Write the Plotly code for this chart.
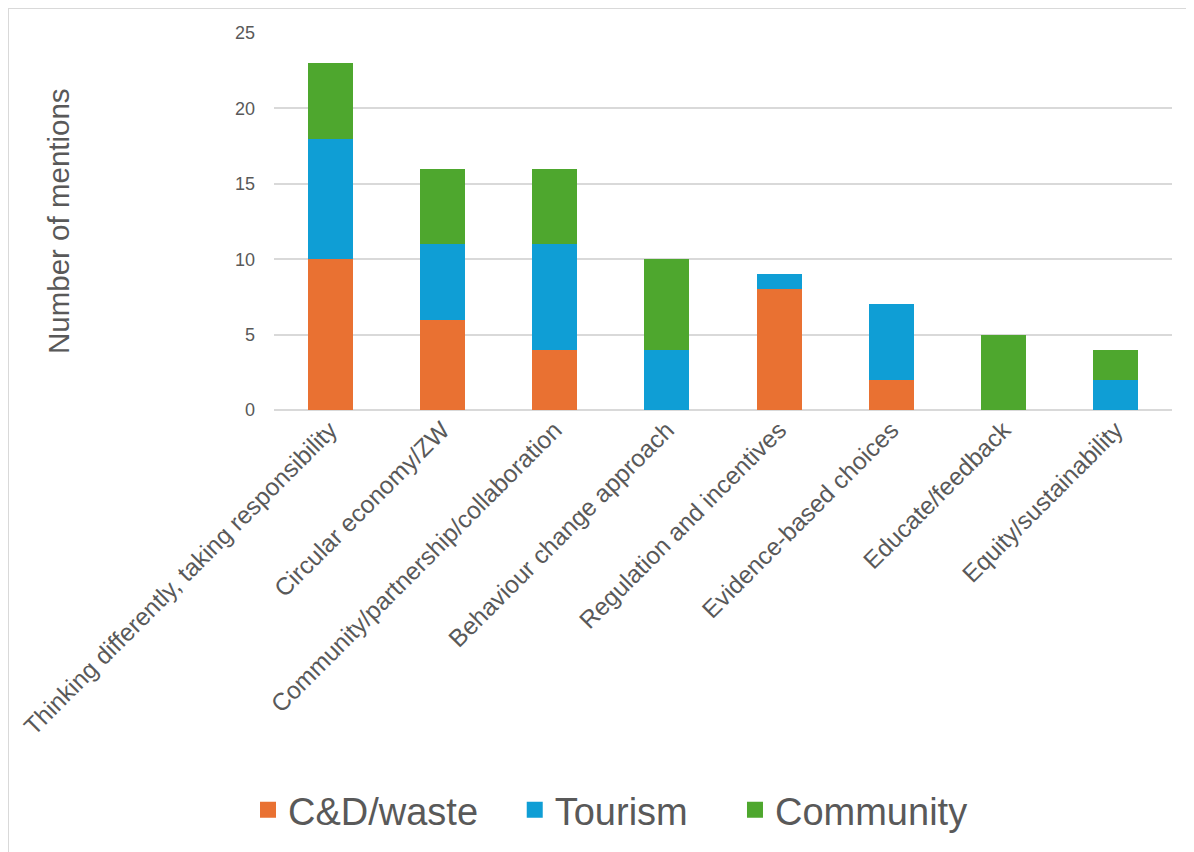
import plotly.graph_objects as go

categories = [
    "Thinking differently, taking responsibility",
    "Circular economy/ZW",
    "Community/partnership/collaboration",
    "Behaviour change approach",
    "Regulation and incentives",
    "Evidence-based choices",
    "Educate/feedback",
    "Equity/sustainability",
]
cd_waste = [10, 6, 4, 0, 8, 2, 0, 0]
tourism = [8, 5, 7, 4, 1, 5, 0, 2]
community = [5, 5, 5, 6, 0, 0, 5, 2]

series_names = ["C&D/waste", "Tourism", "Community"]
series_values = [cd_waste, tourism, community]
series_colors = ["#E97132", "#0F9ED5", "#4EA72E"]
legend_labels = ["C&D/waste\u00a0\u00a0\u00a0", "Tourism\u00a0\u00a0\u00a0\u00a0", "Community"]

# page body has an 8px margin, so the figure is drawn 8px smaller
OFF = 8
W, H = 1194 - OFF, 852 - OFF
L, R, T, B = 274 - OFF, 22, 33 - OFF, 442
PW, PH = W - L - R, H - T - B


def px_x(p):  # p in screen px
    return (p - OFF - L) / PW


def px_y(p):
    return (H - B - (p - OFF)) / PH


TEXT = "#595959"
GRID = "#d9d9d9"
FONT = "Liberation Sans"

fig = go.Figure()
for name, vals, col in zip(series_names, series_values, series_colors):
    fig.add_trace(go.Bar(
        x=categories, y=vals, name=name, marker_color=col,
        marker_line_width=0, showlegend=False, legendgroup=name,
    ))
for name, col, lab in zip(series_names, series_colors, legend_labels):
    fig.add_trace(go.Scatter(
        x=[None], y=[None], mode="markers", name=lab, legendgroup=name,
        marker=dict(symbol="square", size=16, color=col), showlegend=True,
    ))

fig.update_layout(
    width=W, height=H,
    margin=dict(l=L, r=R, t=T, b=B, autoexpand=False),
    barmode="stack", bargap=0.6,
    plot_bgcolor="white", paper_bgcolor="white",
    font=dict(family=FONT, color=TEXT),
    showlegend=True,
    legend=dict(
        orientation="h", x=px_x(248), xanchor="left", y=px_y(810), yanchor="middle",
        font=dict(size=38, color=TEXT, family=FONT), itemsizing="trace",
        bgcolor="rgba(0,0,0,0)",
    ),
    xaxis=dict(
        tickangle=-45, tickfont=dict(size=24.5, color=TEXT, family=FONT),
        showgrid=False, showline=False, ticks="", automargin=False,
    ),
    yaxis=dict(
        range=[0, 25], dtick=5, tickfont=dict(size=18, color=TEXT, family=FONT),
        showgrid=True, gridcolor=GRID, gridwidth=2,
        zeroline=True, zerolinecolor=GRID, zerolinewidth=2,
        showline=False, ticks="", ticklabelstandoff=18, automargin=False,
    ),
    annotations=[dict(
        text="Number of mentions", textangle=-90, xref="paper", yref="paper",
        x=px_x(58), y=px_y(221), xanchor="center", yanchor="middle", showarrow=False,
        font=dict(size=29.5, color=TEXT, family=FONT),
    )],
    shapes=[
        dict(type="line", xref="paper", yref="paper", x0=px_x(8), x1=px_x(1200),
             y0=px_y(8), y1=px_y(8), line=dict(color=GRID, width=2)),
        dict(type="line", xref="paper", yref="paper", x0=px_x(8), x1=px_x(8),
             y0=px_y(8), y1=px_y(860), line=dict(color=GRID, width=2)),
    ],
)

fig.write_html("out.html")
